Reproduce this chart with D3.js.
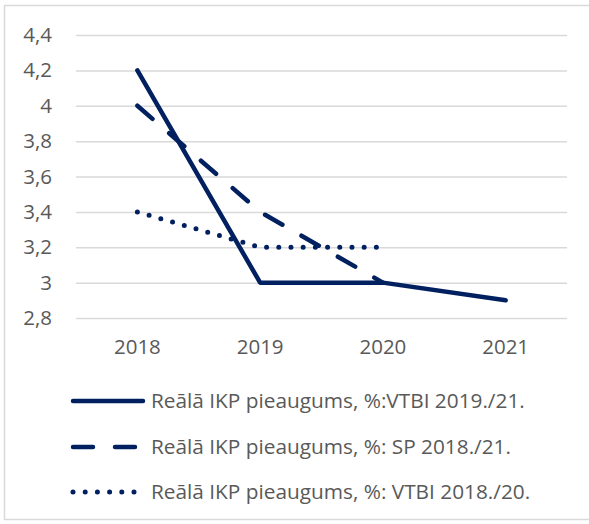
<!DOCTYPE html>
<html>
<head>
<meta charset="utf-8">
<script src="https://cdn.jsdelivr.net/npm/d3@7"></script>
<style>
  body { margin: 0; background: #fff; }
  svg text { font-family: "Open Sans", "Liberation Sans", sans-serif; fill: #595959; }
</style>
</head>
<body>
<div id="chart"></div>
<script>
const years = ["2018", "2019", "2020", "2021"];
const yTicks = [2.8, 3, 3.2, 3.4, 3.6, 3.8, 4, 4.2, 4.4];

const vtbi1921 = [4.2, 3.0, 3.0, 2.9];
const sp1821 = [4.0, 3.4, 3.0, null];
const vtbi1820 = [3.4, 3.2, 3.2, null];

const seriesNames = [
  "Reālā IKP pieaugums, %:VTBI 2019./21.",
  "Reālā IKP pieaugums, %: SP 2018./21.",
  "Reālā IKP pieaugums, %: VTBI 2018./20."
];

const width = 589, height = 524;
const margins = { top: 35, right: 22, bottom: 206, left: 76 };
const navy = "#002060";

const svg = d3.select("#chart").append("svg")
  .attr("width", width)
  .attr("height", height);

// chart frame
svg.append("rect")
  .attr("x", 4.5).attr("y", 5.5)
  .attr("width", 590).attr("height", 514)
  .attr("fill", "none")
  .attr("stroke", "#d9d9d9")
  .attr("stroke-width", 1.5);

const x = d3.scaleBand()
  .domain(years)
  .range([margins.left, width - margins.right]);

const y = d3.scaleLinear()
  .domain([2.8, 4.4])
  .range([height - margins.bottom, margins.top]);

// gridlines + y labels
const yAxis = svg.append("g")
  .attr("transform", `translate(${margins.left},0)`)
  .call(d3.axisLeft(y)
    .tickValues(yTicks)
    .tickSize(-(width - margins.left - margins.right))
    .tickPadding(24)
    .tickFormat(d => String(d).replace(".", ",")));
yAxis.select(".domain").remove();
yAxis.selectAll(".tick line").attr("stroke", "#d9d9d9").attr("stroke-width", 1.5);
yAxis.selectAll(".tick text").attr("font-size", 20.5).style("fill", "#595959");

// x labels
const xAxis = svg.append("g")
  .attr("transform", `translate(0,${height - margins.bottom})`)
  .call(d3.axisBottom(x).tickSize(0).tickPadding(21));
xAxis.select(".domain").remove();
xAxis.selectAll(".tick text").attr("font-size", 20.5).style("fill", "#595959");

const styles = [
  { dash: null },
  { dash: "20,22" },
  { dash: "0,12.2" }
];

const line = d3.line()
  .defined(d => d.v != null)
  .x(d => x(d.year) + x.bandwidth() / 2)
  .y(d => y(d.v));

[vtbi1921, sp1821, vtbi1820].forEach((vals, i) => {
  const data = years.map((year, j) => ({ year, v: vals[j] }));
  svg.append("path")
    .datum(data)
    .attr("d", line)
    .attr("fill", "none")
    .attr("stroke", navy)
    .attr("stroke-width", i === 2 ? 5 : 4.5)
    .attr("stroke-linecap", "round")
    .attr("stroke-linejoin", "round")
    .attr("stroke-dasharray", styles[i].dash);
});

// legend
const legend = svg.append("g");
const legendY = [401, 447, 492];
seriesNames.forEach((name, i) => {
  legend.append("line")
    .attr("x1", 73).attr("x2", 143)
    .attr("y1", legendY[i]).attr("y2", legendY[i])
    .attr("stroke", navy)
    .attr("stroke-width", i === 2 ? 5 : 4.5)
    .attr("stroke-linecap", "round")
    .attr("stroke-dasharray", styles[i].dash);
  legend.append("text")
    .attr("x", 151)
    .attr("y", legendY[i])
    .attr("dy", "0.35em")
    .attr("font-size", 20.8)
    .text(name);
});
</script>
</body>
</html>
